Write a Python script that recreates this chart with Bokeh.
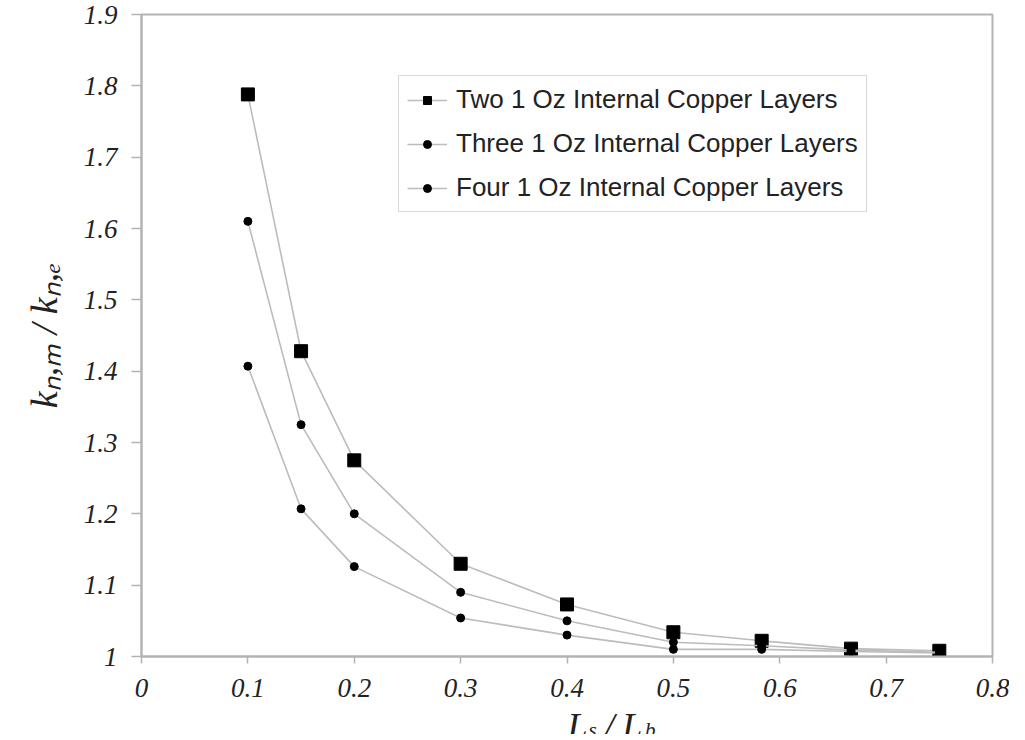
from bokeh.plotting import figure
from bokeh.layouts import column
from bokeh.models import (Range1d, FixedTicker, NumeralTickFormatter, Legend,
                          LegendItem)
from bokeh.core.properties import value
from bokeh.embed import file_html
from bokeh.resources import INLINE

# ---- data ----
x_vals = [0.1, 0.15, 0.2, 0.3, 0.4, 0.5, 0.583, 0.667, 0.75]
two_layers = [1.788, 1.428, 1.275, 1.130, 1.073, 1.034, 1.022, 1.011, 1.008]
three_layers = [1.610, 1.325, 1.200, 1.090, 1.050, 1.020, 1.015, 1.009, 1.006]
four_layers = [1.407, 1.207, 1.126, 1.054, 1.030, 1.010, 1.010, 1.007, 1.005]
series_names = ["Two 1 Oz Internal Copper Layers",
                "Three 1 Oz Internal Copper Layers",
                "Four 1 Oz Internal Copper Layers"]
x_ticks = [0, 0.1, 0.2, 0.3, 0.4, 0.5, 0.6, 0.7, 0.8]
y_ticks = [1.0, 1.1, 1.2, 1.3, 1.4, 1.5, 1.6, 1.7, 1.8, 1.9]
y_title = "kₙ,ₘ / kₙ,ₑ"
x_title_main = ["L", "/", "L"]
x_title_subs = ["s", "b"]

AX = "#b3b3b3"
LINE = "#bcbcbc"
SERIF = "Liberation Serif"
W, H_MAIN, H_TITLE = 1009, 704, 30

p = figure(width=W, height=H_MAIN, output_backend="svg", toolbar_location=None,
           title=None,
           x_range=Range1d(0, 0.8), y_range=Range1d(1.0, 1.9),
           min_border_left=141, min_border_top=14, min_border_right=17,
           min_border_bottom=48)
p.outline_line_color = AX
p.outline_line_width = 2
p.xgrid.visible = False
p.ygrid.visible = False
p.background_fill_color = "white"
p.border_fill_color = "white"

for ax, ticks in ((p.xaxis[0], x_ticks), (p.yaxis[0], y_ticks)):
    ax.ticker = FixedTicker(ticks=ticks)
    ax.formatter = NumeralTickFormatter(format="0.[0]")
    ax.axis_line_color = AX
    ax.axis_line_width = 2
    ax.major_tick_line_color = AX
    ax.major_tick_line_width = 1.5
    ax.major_tick_in = 0
    ax.minor_tick_line_color = None
    ax.major_label_text_font = SERIF
    ax.major_label_text_font_style = "italic"
    ax.major_label_text_font_size = "27px"
    ax.major_label_text_color = "#222222"

p.xaxis.major_tick_out = 7
p.xaxis.major_label_standoff = 15
p.yaxis.major_tick_out = 10
p.yaxis.major_label_standoff = 14

p.yaxis.axis_label = y_title
p.yaxis.axis_label_text_font = SERIF
p.yaxis.axis_label_text_font_style = "italic"
p.yaxis.axis_label_text_font_size = "38px"
p.yaxis.axis_label_text_color = "#222222"
p.yaxis.axis_label_standoff = 16

r_two_l = p.line(x_vals, two_layers, line_color=LINE, line_width=1.6)
r_two_m = p.scatter(x_vals, two_layers, marker="square", size=13,
                    fill_color="black", line_color="black")
r_thr_l = p.line(x_vals, three_layers, line_color=LINE, line_width=1.6)
r_thr_m = p.scatter(x_vals, three_layers, marker="circle", size=8,
                    fill_color="black", line_color="black")
r_fou_l = p.line(x_vals, four_layers, line_color=LINE, line_width=1.6)
r_fou_m = p.scatter(x_vals, four_layers, marker="circle", size=8,
                    fill_color="black", line_color="black")

legend = Legend(items=[
    LegendItem(label=series_names[0], renderers=[r_two_l, r_two_m]),
    LegendItem(label=series_names[1], renderers=[r_thr_l, r_thr_m]),
    LegendItem(label=series_names[2], renderers=[r_fou_l, r_fou_m]),
], location=(257, 444))
legend.label_text_font = "Liberation Sans"
legend.label_text_font_size = "26px"
legend.label_text_color = "#222222"
legend.glyph_width = 40
legend.glyph_height = 20
legend.label_height = 20
legend.label_standoff = 9
legend.spacing = 13
legend.padding = 8
legend.margin = 0
legend.border_line_color = AX
legend.border_line_width = 1.5
legend.background_fill_alpha = 1
p.add_layout(legend, "center")

# strip below the chart carrying the x title (L_s / L_b), in pixel coords
t = figure(width=W, height=H_TITLE, output_backend="svg", title=None,
           toolbar_location=None, x_range=Range1d(0, W),
           y_range=Range1d(0, H_TITLE), min_border=0)
t.axis.visible = False
t.grid.visible = False
t.outline_line_color = None
t.background_fill_color = "white"
t.border_fill_color = "white"
t.text(x=[505, 549, 570], y=[9, 9, 9], text=x_title_main,
       text_font=value(SERIF), text_font_style="italic",
       text_font_size="36px", text_color="#222222",
       text_align="left", text_baseline="alphabetic")
t.text(x=[530, 597], y=[5, 5], text=x_title_subs,
       text_font=value(SERIF), text_font_style="italic",
       text_font_size="21px", text_color="#222222",
       text_align="left", text_baseline="alphabetic")

layout = column(p, t, spacing=0)
open("out.html", "w").write(file_html(layout, INLINE))
